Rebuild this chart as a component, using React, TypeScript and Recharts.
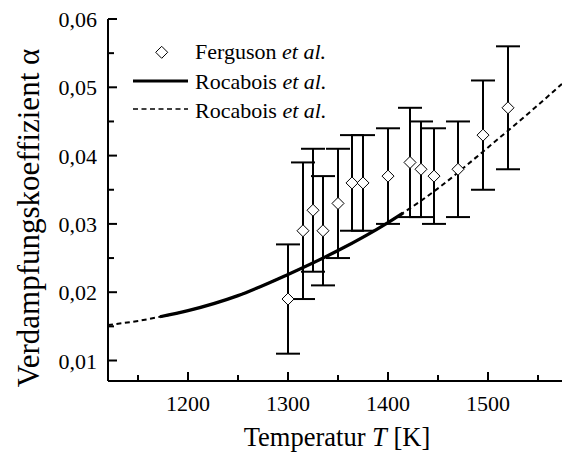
import {
  ComposedChart,
  Line,
  Scatter,
  ErrorBar,
  XAxis,
  YAxis,
  Legend,
} from 'recharts';

// Rocabois et al. fit curve
const curveT = [1120, 1150, 1172, 1200, 1250, 1300, 1350, 1400, 1415, 1450, 1500, 1550, 1574];
const curveAlpha = [0.0152, 0.0158, 0.0164, 0.0173, 0.0195, 0.0226, 0.0261, 0.0302, 0.0316, 0.0352, 0.0412, 0.0474, 0.0505];
const solidFrom = 1172;
const solidTo = 1415;

// Ferguson et al. measurements
const fergT = [1300, 1315, 1325, 1335, 1350, 1364, 1375, 1400, 1422, 1433, 1446, 1470, 1495, 1520];
const fergAlpha = [0.019, 0.029, 0.032, 0.029, 0.033, 0.036, 0.036, 0.037, 0.039, 0.038, 0.037, 0.038, 0.043, 0.047];
const fergErr = [0.008, 0.01, 0.009, 0.008, 0.008, 0.007, 0.007, 0.007, 0.008, 0.007, 0.007, 0.007, 0.008, 0.009];

const xTicks = [1150, 1200, 1250, 1300, 1350, 1400, 1450, 1500, 1550];
const yTicks = [0.01, 0.015, 0.02, 0.025, 0.03, 0.035, 0.04, 0.045, 0.05, 0.055, 0.06];

const legendLabels = ['Ferguson', 'Rocabois', 'Rocabois'];

const curveData = curveT.map((T, i) => ({ T, alpha: curveAlpha[i] }));
const solidData = curveData.filter((d) => d.T >= solidFrom && d.T <= solidTo);
const fergData = fergT.map((T, i) => ({ T, alpha: fergAlpha[i], err: fergErr[i] }));

const FONT = '"Liberation Serif", "Times New Roman", serif';

const isMajorX = (v: number) => v % 100 === 0;
const isMajorY = (v: number) => Math.round(v * 1000) % 10 === 0;

const BottomTick = ({ x, y, payload }: any) => {
  const major = isMajorX(payload.value);
  return (
    <g>
      <line x1={x} x2={x} y1={y} y2={y - (major ? 9 : 6)} stroke="#000" strokeWidth={2} />
      {major && (
        <text x={x} y={y + 30} textAnchor="middle" fontSize={22} fontFamily={FONT} fill="#000">
          {payload.value}
        </text>
      )}
    </g>
  );
};

const TopTick = ({ x, y, payload }: any) => {
  const major = isMajorX(payload.value);
  return <line x1={x} x2={x} y1={y} y2={y + (major ? 9 : 6)} stroke="#000" strokeWidth={2} />;
};

const LeftTick = ({ x, y, payload }: any) => {
  const major = isMajorY(payload.value);
  return (
    <g>
      <line x1={x} x2={x + (major ? 9 : 6)} y1={y} y2={y} stroke="#000" strokeWidth={2} />
      {major && (
        <text x={x - 11} y={y + 8} textAnchor="end" fontSize={22} fontFamily={FONT} fill="#000">
          {payload.value.toFixed(2).replace('.', ',')}
        </text>
      )}
    </g>
  );
};

const RightTick = ({ x, y, payload }: any) => {
  const major = isMajorY(payload.value);
  return <line x1={x} x2={x - (major ? 9 : 6)} y1={y} y2={y} stroke="#000" strokeWidth={2} />;
};

const Diamond = ({ cx, cy }: any) => (
  <polygon
    points={`${cx},${cy - 6} ${cx + 6},${cy} ${cx},${cy + 6} ${cx - 6},${cy}`}
    fill="#fff"
    stroke="#000"
    strokeWidth={1}
  />
);

const LegendBox = () => (
  <svg width={400} height={130} style={{ display: 'block' }}>
    <polygon points="161.7,46.3 167.7,52.3 161.7,58.3 155.7,52.3" fill="#fff" stroke="#000" strokeWidth={1} />
    <line x1={133} x2={188} y1={81} y2={81} stroke="#000" strokeWidth={3} />
    <line x1={133} x2={188} y1={109} y2={109} stroke="#000" strokeWidth={1.5} strokeDasharray="5 3.5" />
    {legendLabels.map((name, i) => (
      <text key={i} x={195} y={59 + i * 29.5} fontSize={22} fontFamily={FONT} fill="#000">
        {name} <tspan fontStyle="italic">et al.</tspan>
      </text>
    ))}
  </svg>
);

export default function App() {
  return (
    <div style={{ position: 'absolute', left: 0, top: 0, width: 563, height: 452, background: '#fff' }}>
      <ComposedChart width={563} height={452} margin={{ top: 19, right: 1, bottom: 0, left: 0 }}>
        <XAxis
          xAxisId="b"
          dataKey="T"
          type="number"
          domain={[1120, 1574]}
          allowDataOverflow
          ticks={xTicks}
          interval={0}
          height={71}
          tickSize={0}
          tickMargin={0}
          tickLine={false}
          axisLine={{ stroke: '#000', strokeWidth: 2 }}
          tick={<BottomTick />}
        />
        <XAxis
          xAxisId="t"
          orientation="top"
          dataKey="T"
          type="number"
          domain={[1120, 1574]}
          allowDataOverflow
          ticks={xTicks}
          interval={0}
          height={0}
          tickSize={0}
          tickMargin={0}
          tickLine={false}
          axisLine={{ stroke: '#000', strokeWidth: 2 }}
          tick={<TopTick />}
        />
        <YAxis
          yAxisId="l"
          type="number"
          domain={[0.007, 0.06]}
          allowDataOverflow
          ticks={yTicks}
          interval={0}
          width={108}
          tickSize={0}
          tickMargin={0}
          tickLine={false}
          axisLine={{ stroke: '#000', strokeWidth: 2 }}
          tick={<LeftTick />}
        />
        <YAxis
          yAxisId="r"
          orientation="right"
          type="number"
          domain={[0.007, 0.06]}
          allowDataOverflow
          ticks={yTicks}
          interval={0}
          width={0}
          tickSize={0}
          tickMargin={0}
          tickLine={false}
          axisLine={{ stroke: '#000', strokeWidth: 2 }}
          tick={<RightTick />}
        />
        <Legend
          layout="vertical"
          align="center"
          verticalAlign="middle"
          wrapperStyle={{ top: 0, left: 0, width: 400, height: 130 }}
          content={<LegendBox />}
        />
        <Line
          xAxisId="b"
          yAxisId="l"
          data={curveData}
          dataKey="alpha"
          type="monotone"
          stroke="#000"
          strokeWidth={2}
          strokeDasharray="5 3.5"
          dot={false}
          activeDot={false}
          isAnimationActive={false}
        />
        <Line
          xAxisId="b"
          yAxisId="l"
          data={solidData}
          dataKey="alpha"
          type="monotone"
          stroke="#000"
          strokeWidth={3.2}
          dot={false}
          activeDot={false}
          isAnimationActive={false}
        />
        <Scatter
          xAxisId="b"
          yAxisId="l"
          data={fergData}
          dataKey="alpha"
          shape={<Diamond />}
          isAnimationActive={false}
        >
          <ErrorBar dataKey="err" direction="y" width={12} stroke="#000" strokeWidth={2} isAnimationActive={false} />
        </Scatter>
      </ComposedChart>
      <svg width={563} height={452} style={{ position: 'absolute', left: 0, top: 0, pointerEvents: 'none' }}>
        <text x={337} y={446} textAnchor="middle" fontSize={26.5} fontFamily={FONT} fill="#000">
          Temperatur <tspan fontStyle="italic">T</tspan> [K]
        </text>
        <text
          transform="translate(39 218) rotate(-90)"
          textAnchor="middle"
          fontSize={31}
          fontFamily={FONT}
          fill="#000"
        >
          Verdampfungskoeffizient α
        </text>
      </svg>
    </div>
  );
}
